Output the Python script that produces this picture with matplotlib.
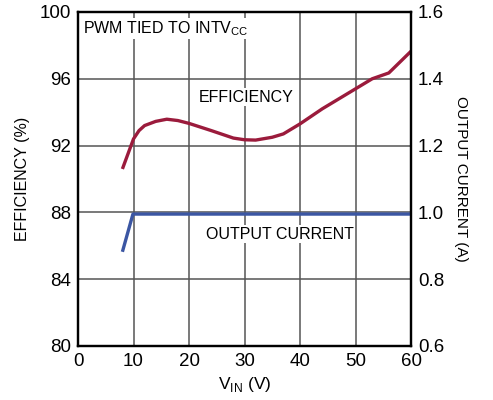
import matplotlib
matplotlib.use("Agg")
import matplotlib.pyplot as plt
from matplotlib import font_manager

# font: narrow Helvetica look if available
fam = ['Liberation Sans Narrow', 'Liberation Sans', 'DejaVu Sans']
names = {f.name for f in font_manager.fontManager.ttflist}
fam = [f for f in fam if f in names]
plt.rcParams['font.family'] = fam

# efficiency curve (%)
vin_eff = [8, 9, 10, 11, 12, 14, 16, 18, 20, 24, 28, 30, 32, 35, 37, 40, 44, 48, 50, 53, 56, 58, 60]
efficiency = [90.6, 91.5, 92.4, 92.9, 93.2, 93.45, 93.58, 93.5, 93.33, 92.9, 92.45, 92.35, 92.33, 92.5, 92.7, 93.3, 94.2, 95.0, 95.4, 96.0, 96.35, 97.0, 97.65]

# output current (A)
vin_iout = [8, 9.9, 20, 30, 40, 50, 60]
iout = [0.882, 0.995, 0.995, 0.995, 0.995, 0.995, 0.995]

fig = plt.figure(figsize=(4.93, 4.0), dpi=100)
ax = fig.add_axes([78 / 493, 54 / 400, 333 / 493, 334 / 400])
ax2 = ax.twinx()

ax.set_xlim(0, 60)
ax.set_ylim(80, 100)
ax2.set_ylim(0.6, 1.6)
ax.set_xticks(range(0, 61, 10))
ax.set_yticks(range(80, 101, 4))
ax2.set_yticks([0.6, 0.8, 1.0, 1.2, 1.4, 1.6])
ax2.set_yticklabels(['0.6', '0.8', '1.0', '1.2', '1.4', '1.6'])

ax.grid(True, color='#555555', lw=1.1)
ax.set_axisbelow(True)
for a in (ax, ax2):
    a.tick_params(length=0, labelsize=13.5, pad=5)
    for s in a.spines.values():
        s.set_linewidth(1.6)

ax.plot(vin_eff, efficiency, color='#9b1b3c', lw=2.4, solid_capstyle='butt')
ax2.plot(vin_iout, iout, color='#3b56a3', lw=2.4, solid_capstyle='butt')

ax.set_xlabel('V$_{\\mathregular{IN}}$ (V)', fontsize=12.5, labelpad=4)
ax.set_ylabel('EFFICIENCY (%)', fontsize=11.5, labelpad=7)
ax2.set_ylabel('OUTPUT CURRENT (A)', fontsize=11, rotation=-90, labelpad=17)

box = dict(facecolor='white', edgecolor='none', pad=1)
ax.text(0.9, 99.0, 'PWM TIED TO INTV$_{\\mathregular{CC}}$', fontsize=11.5, va='center', ha='left', bbox=box)
ax.text(21.8, 94.9, 'EFFICIENCY', fontsize=11.5, va='center', ha='left', bbox=box)
ax.text(23.0, 86.7, 'OUTPUT CURRENT', fontsize=11.5, va='center', ha='left', bbox=box)

fig.savefig('out.png', dpi=100)
